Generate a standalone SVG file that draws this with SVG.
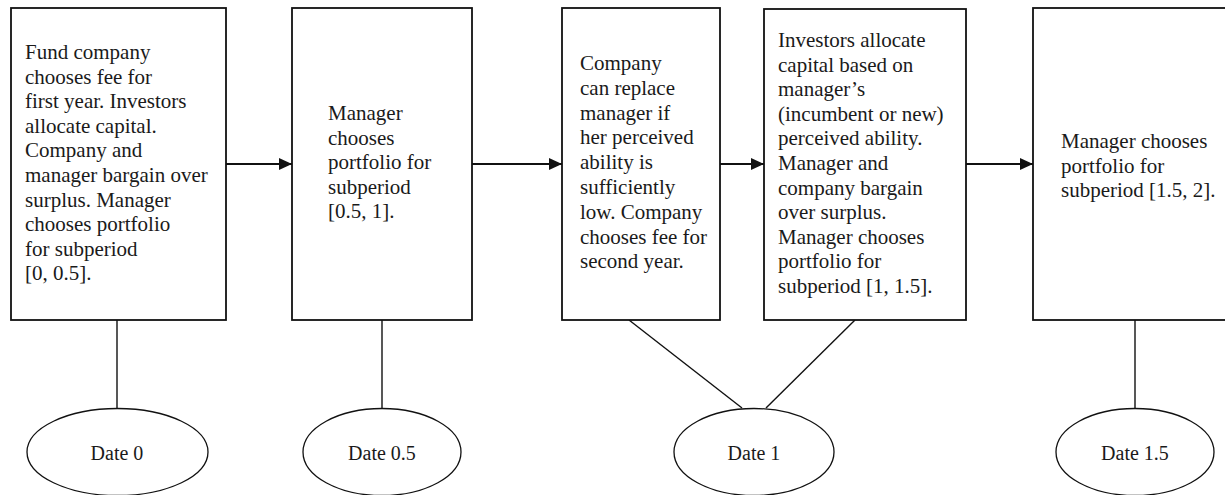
<svg xmlns="http://www.w3.org/2000/svg" width="1225" height="495" viewBox="0 0 1225 495">
<defs>
<marker id="ah" markerWidth="14" markerHeight="12" refX="13" refY="6" orient="auto" markerUnits="userSpaceOnUse">
<path d="M0,0 L13,6 L0,12 Z" fill="#111"/>
</marker>
<style>
.box{fill:#fff;stroke:#111;stroke-width:1.8}
.ell{fill:#fff;stroke:#111;stroke-width:1.3}
.t{font-family:"Liberation Serif","Times New Roman",serif;font-size:21px;fill:#1a1a1a}
.d{font-family:"Liberation Serif","Times New Roman",serif;font-size:20px;fill:#1a1a1a;text-anchor:middle}
.c{stroke:#111;stroke-width:1.4;fill:none}
.a{stroke:#111;stroke-width:1.8;fill:none}
</style>
</defs>
<rect width="1225" height="495" fill="#fff"/>
<g id="connectors">
<line class="a" x1="226" y1="164" x2="292" y2="164" marker-end="url(#ah)"/>
<line class="a" x1="472" y1="164" x2="562" y2="164" marker-end="url(#ah)"/>
<line class="a" x1="720" y1="164" x2="764" y2="164" marker-end="url(#ah)"/>
<line class="a" x1="966" y1="164" x2="1033" y2="164" marker-end="url(#ah)"/>
<line class="c" x1="117" y1="320" x2="117" y2="408"/>
<line class="c" x1="382" y1="320" x2="382" y2="408"/>
<line class="c" x1="629" y1="320" x2="742" y2="408"/>
<line class="c" x1="855" y1="320" x2="766" y2="408"/>
<line class="c" x1="1135" y1="320" x2="1135" y2="408"/>
</g>
<g id="box1">
<rect class="box" x="11" y="8" width="215" height="312"/>
<text class="t" x="25" y="59">
<tspan x="25" y="59">Fund company</tspan>
<tspan x="25" y="83.6">chooses fee for</tspan>
<tspan x="25" y="108.2">first year. Investors</tspan>
<tspan x="25" y="132.8">allocate capital.</tspan>
<tspan x="25" y="157.4">Company and</tspan>
<tspan x="25" y="182">manager bargain over</tspan>
<tspan x="25" y="206.6">surplus. Manager</tspan>
<tspan x="25" y="231.2">chooses portfolio</tspan>
<tspan x="25" y="255.8">for subperiod</tspan>
<tspan x="25" y="280.4">[0, 0.5].</tspan>
</text>
</g>
<g id="box2">
<rect class="box" x="292" y="8" width="180" height="312"/>
<text class="t">
<tspan x="328" y="120">Manager</tspan>
<tspan x="328" y="144.6">chooses</tspan>
<tspan x="328" y="169.2">portfolio for</tspan>
<tspan x="328" y="193.8">subperiod</tspan>
<tspan x="328" y="218.4">[0.5, 1].</tspan>
</text>
</g>
<g id="box3">
<rect class="box" x="562" y="8" width="158" height="312"/>
<text class="t">
<tspan x="580" y="70">Company</tspan>
<tspan x="580" y="94.8">can replace</tspan>
<tspan x="580" y="119.6">manager if</tspan>
<tspan x="580" y="144.4">her perceived</tspan>
<tspan x="580" y="169.2">ability is</tspan>
<tspan x="580" y="194">sufficiently</tspan>
<tspan x="580" y="218.8">low. Company</tspan>
<tspan x="580" y="243.6">chooses fee for</tspan>
<tspan x="580" y="268.4">second year.</tspan>
</text>
</g>
<g id="box4">
<rect class="box" x="764" y="9" width="202" height="311"/>
<text class="t">
<tspan x="778" y="47">Investors allocate</tspan>
<tspan x="778" y="71.6">capital based on</tspan>
<tspan x="778" y="96.2">manager’s</tspan>
<tspan x="778" y="120.8">(incumbent or new)</tspan>
<tspan x="778" y="145.4">perceived ability.</tspan>
<tspan x="778" y="170">Manager and</tspan>
<tspan x="778" y="194.6">company bargain</tspan>
<tspan x="778" y="219.2">over surplus.</tspan>
<tspan x="778" y="243.8">Manager chooses</tspan>
<tspan x="778" y="268.4">portfolio for</tspan>
<tspan x="778" y="293">subperiod [1, 1.5].</tspan>
</text>
</g>
<g id="box5">
<rect class="box" x="1033" y="8" width="205" height="312"/>
<text class="t">
<tspan x="1061" y="148">Manager chooses</tspan>
<tspan x="1061" y="172.6">portfolio for</tspan>
<tspan x="1061" y="197.2">subperiod [1.5, 2].</tspan>
</text>
</g>
<g id="date0">
<ellipse class="ell" cx="117.5" cy="452" rx="90.5" ry="43.5"/>
<text class="d" x="117" y="460">Date 0</text>
</g>
<g id="date05">
<ellipse class="ell" cx="382" cy="452" rx="79" ry="43.5"/>
<text class="d" x="382" y="460">Date 0.5</text>
</g>
<g id="date1">
<ellipse class="ell" cx="754" cy="452" rx="80" ry="43.5"/>
<text class="d" x="754" y="460">Date 1</text>
</g>
<g id="date15">
<ellipse class="ell" cx="1135" cy="452" rx="79" ry="43.5"/>
<text class="d" x="1135" y="460">Date 1.5</text>
</g>
</svg>
